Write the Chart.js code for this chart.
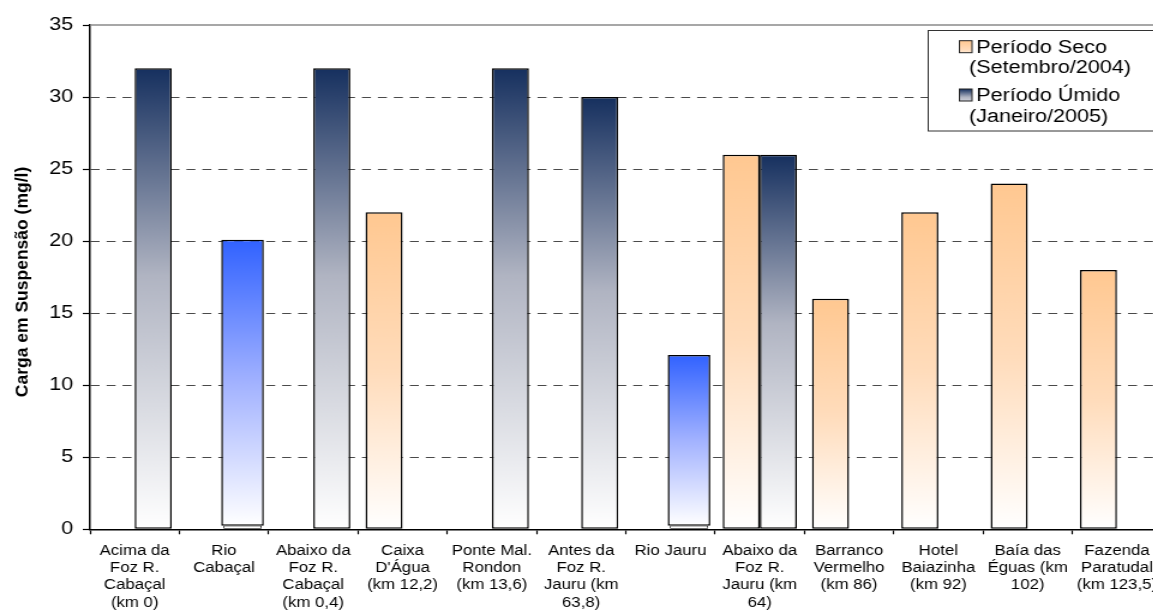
<!DOCTYPE html>
<html lang="pt">
<head>
<meta charset="utf-8">
<title>Carga em Suspensão</title>
<script src="https://cdn.jsdelivr.net/npm/chart.js@4/dist/chart.umd.min.js"></script>
<style>
  html, body { margin: 0; padding: 0; background: #fff; overflow: hidden; }
  #wrap { width: 1153px; height: 610px; overflow: hidden; position: relative; }
  /* the chart is laid out narrow and widened horizontally */
  #chart { display: block; transform: scaleX(1.2); transform-origin: 0 0; }
</style>
</head>
<body>
<div id="wrap"><canvas id="chart" width="975" height="610"></canvas></div>
<script>
// Pontos de coleta ao longo do rio
const categorias = [
  ["Acima da", "Foz R.", "Cabaçal", "(km 0)"],
  ["Rio", "Cabaçal"],
  ["Abaixo da", "Foz R.", "Cabaçal", "(km 0,4)"],
  ["Caixa", "D'Água", "(km 12,2)"],
  ["Ponte Mal.", "Rondon", "(km 13,6)"],
  ["Antes da", "Foz R.", "Jauru (km", "63,8)"],
  ["Rio Jauru"],
  ["Abaixo da", "Foz R.", "Jauru (km", "64)"],
  ["Barranco", "Vermelho", "(km 86)"],
  ["Hotel", "Baiazinha", "(km 92)"],
  ["Baía das", "Éguas (km", "102)"],
  ["Fazenda", "Paratudal", "(km 123,5)"]
];

// Carga em suspensão (mg/l)
const periodoSeco   = [null, null, null, 22, null, null, null, 26, 16, 22, 24, 18];
const periodoUmido  = [32, null, 32, null, 32, 30, null, 26, null, null, null, null];
const afluentesTopo = [null, 20.1, null, null, null, null, 12.1, null, null, null, null, null];
const afluentesBase = [null, 0.25, null, null, null, null, 0.25, null, null, null, null, null];

const ticksY = [0, 5, 10, 15, 20, 25, 30, 35];

const legendaSeco  = ["Período Seco", "(Setembro/2004)"];
const legendaUmido = ["Período Úmido", "(Janeiro/2005)"];
const tituloY = "Carga em Suspensão (mg/l)";

const STRETCH = 1.2;
const FONT = '"Liberation Sans", Arial, Helvetica, sans-serif';

// floating bars for the tributaries, sitting on a small base stub
const afluentesBarras = afluentesTopo.map((v, i) => v == null ? null : [afluentesBase[i], v]);
const afluentesStub = afluentesBase.map(v => v == null ? null : [0, v]);

const paletas = {
  seco:  [[0, '#ffc891'], [0.5, '#ffdcbb'], [1, '#ffffff']],
  umido: [[0, '#16305f'], [0.45, '#b0b4c2'], [1, '#ffffff']],
  azul:  [[0, '#3162ff'], [0.5, '#a2b2ff'], [1, '#ffffff']]
};

function gradienteBarra(nome) {
  return (c) => {
    const chart = c.chart;
    const raw = c.raw;
    if (!chart.chartArea || raw == null) return paletas[nome][0][1];
    const topo = Array.isArray(raw) ? raw[1] : raw;
    const base = Array.isArray(raw) ? raw[0] : 0;
    const y0 = chart.scales.y.getPixelForValue(topo);
    const y1 = chart.scales.y.getPixelForValue(base);
    const g = chart.ctx.createLinearGradient(0, y0, 0, y1);
    paletas[nome].forEach(([p, col]) => g.addColorStop(p, col));
    return g;
  };
}

function gradienteCaixa(ctx, nome, y0, y1) {
  const g = ctx.createLinearGradient(0, y0, 0, y1);
  paletas[nome].forEach(([p, col]) => g.addColorStop(p, col));
  return g;
}

const decoracao = {
  id: 'decoracao',
  beforeDatasetsDraw(chart) {
    const { ctx, chartArea: a } = chart;
    ctx.save();
    ctx.strokeStyle = '#8a8a8a';
    ctx.lineWidth = 1.5;
    ctx.beginPath();
    ctx.moveTo(a.left, a.top);
    ctx.lineTo(chart.width, a.top);
    ctx.stroke();
    ctx.restore();
  },
  afterDraw(chart) {
    const { ctx } = chart;
    // legend box
    ctx.save();
    ctx.fillStyle = '#fff';
    ctx.strokeStyle = '#333';
    ctx.lineWidth = 1;
    ctx.fillRect(773.5, 30.5, 300, 100.5);
    ctx.strokeRect(773.5, 30.5, 300, 100.5);

    const itens = [
      { nome: 'seco', texto: legendaSeco, y: 52.7 },
      { nome: 'umido', texto: legendaUmido, y: 101 }
    ];
    ctx.font = '18px ' + FONT;
    ctx.textAlign = 'left';
    ctx.textBaseline = 'alphabetic';
    itens.forEach(it => {
      const sy0 = it.y - 12, sy1 = it.y;
      ctx.fillStyle = gradienteCaixa(ctx, it.nome, sy0, sy1 + 6);
      ctx.fillRect(799.5, sy0, 10.5, 12);
      ctx.strokeStyle = '#222';
      ctx.lineWidth = 1;
      ctx.strokeRect(799.5, sy0, 10.5, 12);
      ctx.fillStyle = '#000';
      ctx.fillText(it.texto[0], 813.5, it.y);
      ctx.fillText(it.texto[1], 807.5, it.y + 20.6);
    });
    ctx.restore();

    // y axis title, kept upright-proportioned
    ctx.save();
    ctx.translate(22.75, 282);
    ctx.scale(1 / STRETCH, 1);
    ctx.rotate(-Math.PI / 2);
    ctx.font = 'bold 17.5px ' + FONT;
    ctx.fillStyle = '#000';
    ctx.textAlign = 'center';
    ctx.textBaseline = 'alphabetic';
    ctx.fillText(tituloY, 0, 0);
    ctx.restore();
  }
};

const barraBase = {
  borderColor: '#000',
  borderWidth: 1.5,
  borderSkipped: false,
  categoryPercentage: 0.83,
  barPercentage: 1.0
};

new Chart(document.getElementById('chart'), {
  type: 'bar',
  data: {
    labels: categorias,
    datasets: [
      Object.assign({}, barraBase, {
        label: legendaSeco.join(' '),
        data: periodoSeco,
        stack: 'seco',
        backgroundColor: gradienteBarra('seco')
      }),
      Object.assign({}, barraBase, {
        label: legendaUmido.join(' '),
        data: periodoUmido,
        stack: 'umido',
        backgroundColor: gradienteBarra('umido')
      }),
      Object.assign({}, barraBase, {
        label: 'Afluentes (base)',
        data: afluentesStub,
        stack: 'umido',
        borderWidth: 0.8,
        barPercentage: 1.03,
        backgroundColor: '#ffffff'
      }),
      Object.assign({}, barraBase, {
        label: 'Afluentes',
        data: afluentesBarras,
        stack: 'umido',
        barPercentage: 1.15,
        backgroundColor: gradienteBarra('azul')
      })
    ]
  },
  options: {
    responsive: false,
    animation: false,
    devicePixelRatio: 1,
    layout: { padding: { top: 25, right: 7, bottom: 0, left: 0 } },
    plugins: {
      legend: { display: false },
      tooltip: { enabled: false },
      title: { display: false }
    },
    scales: {
      x: {
        stacked: true,
        grid: {
          display: true,
          offset: true,
          drawOnChartArea: false,
          drawTicks: true,
          tickLength: 5,
          tickColor: '#000',
          tickWidth: 1.2,
          color: '#000'
        },
        border: { display: true, color: '#000', width: 1.5 },
        ticks: {
          color: '#000',
          padding: 8,
          maxRotation: 0,
          autoSkip: false,
          font: { family: FONT, size: 14, lineHeight: 1.236 }
        },
        afterFit(scale) { scale.height = 80.7; }
      },
      y: {
        stacked: false,
        min: 0,
        max: 35,
        afterBuildTicks(scale) { scale.ticks = ticksY.map(v => ({ value: v })); },
        grid: {
          drawTicks: true,
          tickLength: 6,
          tickColor: '#000',
          tickWidth: 1.2,
          lineWidth: 1,
          color: (c) => (c.tick && (c.tick.value === 0 || c.tick.value === 35)) ? 'rgba(0,0,0,0)' : '#4a4a4a'
        },
        border: { display: true, color: '#000', width: 1.5, dash: [7.5, 5.8] },
        ticks: {
          color: '#000',
          padding: 8,
          font: { family: FONT, size: 18 }
        },
        afterFit(scale) { scale.width = 75; }
      }
    }
  },
  plugins: [decoracao]
});
</script>
</body>
</html>
